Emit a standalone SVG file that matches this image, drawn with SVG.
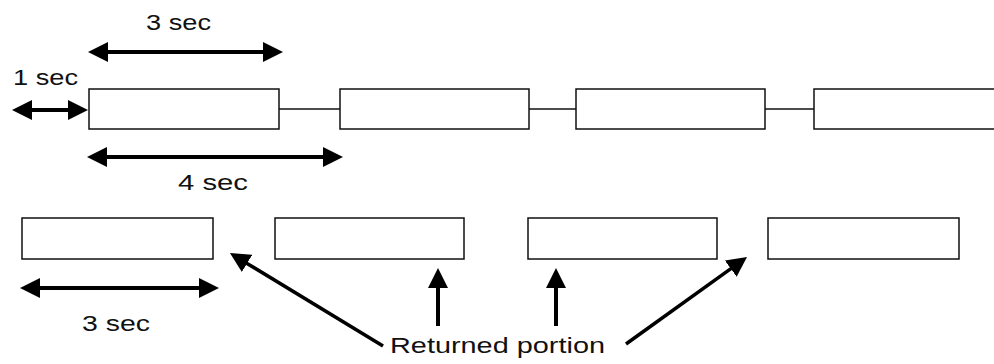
<svg xmlns="http://www.w3.org/2000/svg" width="994" height="364" viewBox="0 0 994 364">
<style>
.box{fill:#fff;stroke:#111;stroke-width:1.5}
.link{stroke:#111;stroke-width:1.5;fill:none}
.arr{stroke:#000;stroke-width:4;fill:none}
.arr2{stroke:#000;stroke-width:3.5;fill:none}
text{font-family:"Liberation Sans",Arial,sans-serif;font-size:22px;fill:#111}
</style>
<defs>
<marker id="ah" markerUnits="userSpaceOnUse" markerWidth="21" markerHeight="20" refX="1" refY="10" orient="auto-start-reverse" viewBox="0 0 21 20">
<path d="M0,0 L20,10 L0,20 z" fill="#000"/>
</marker>
</defs>
<rect width="994" height="364" fill="#fff"/>
<g id="connectors">
<line class="link" x1="279" y1="109" x2="340" y2="109"/>
<line class="link" x1="529" y1="109" x2="576" y2="109"/>
<line class="link" x1="765" y1="109" x2="814" y2="109"/>
<line class="arr" x1="107" y1="52" x2="264" y2="52" marker-start="url(#ah)" marker-end="url(#ah)"/>
<line class="arr" x1="31" y1="110" x2="69" y2="110" marker-start="url(#ah)" marker-end="url(#ah)"/>
<line class="arr" x1="106" y1="157" x2="324" y2="157" marker-start="url(#ah)" marker-end="url(#ah)"/>
<line class="arr" x1="39" y1="288" x2="200" y2="288" marker-start="url(#ah)" marker-end="url(#ah)"/>
<line class="arr2" x1="383" y1="346" x2="246.2" y2="262.9" marker-end="url(#ah)"/>
<line class="arr" x1="438" y1="326" x2="438" y2="287" marker-end="url(#ah)"/>
<line class="arr" x1="556" y1="326" x2="556" y2="287" marker-end="url(#ah)"/>
<line class="arr2" x1="626" y1="344" x2="731.6" y2="268.1" marker-end="url(#ah)"/>
</g>
<g id="top1"><rect class="box" x="89" y="89" width="190" height="40"/></g>
<g id="top2"><rect class="box" x="340" y="89" width="189" height="40"/></g>
<g id="top3"><rect class="box" x="576" y="89" width="189" height="40"/></g>
<g id="top4"><rect class="box" x="814" y="89" width="200" height="40"/></g>
<g id="bot1"><rect class="box" x="22" y="218" width="191" height="41"/></g>
<g id="bot2"><rect class="box" x="275" y="218" width="189" height="41"/></g>
<g id="bot3"><rect class="box" x="528" y="218" width="189" height="41"/></g>
<g id="bot4"><rect class="box" x="768" y="218" width="191" height="41"/></g>
<g id="labels">
<text x="146" y="30" textLength="65" lengthAdjust="spacingAndGlyphs">3 sec</text>
<text x="13" y="85" textLength="65" lengthAdjust="spacingAndGlyphs">1 sec</text>
<text x="178" y="190" textLength="70" lengthAdjust="spacingAndGlyphs">4 sec</text>
<text x="82" y="331" textLength="68" lengthAdjust="spacingAndGlyphs">3 sec</text>
<text x="390" y="353" textLength="215" lengthAdjust="spacingAndGlyphs">Returned portion</text>
</g>
</svg>
